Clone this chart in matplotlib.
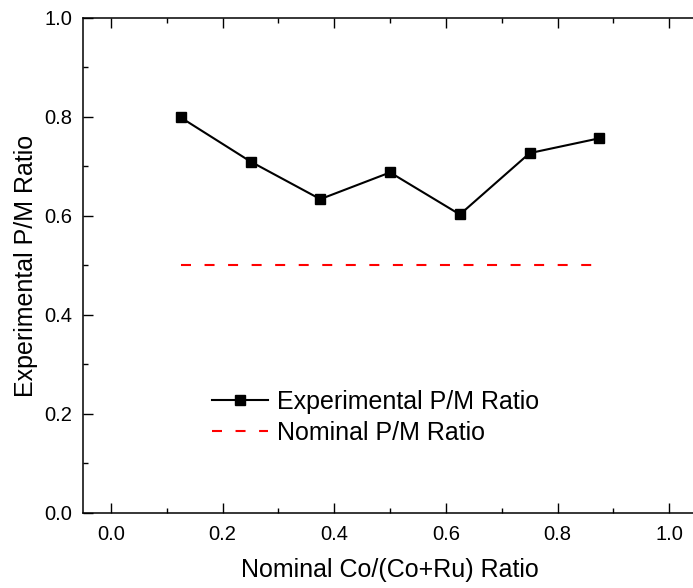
import matplotlib
matplotlib.use("Agg")
import matplotlib.pyplot as plt
from matplotlib.ticker import MultipleLocator

plt.rcParams["font.family"] = ["Liberation Sans", "DejaVu Sans"]

# Data
co_ratio = [0.125, 0.25, 0.375, 0.5, 0.625, 0.75, 0.875]
exp_pm = [0.799, 0.710, 0.634, 0.688, 0.603, 0.727, 0.757]
nominal_x = [0.125, 0.875]
nominal_pm = [0.5, 0.5]

fig = plt.figure(figsize=(6.93, 5.88), dpi=100)
ax = fig.add_axes([0.1198, 0.1276, 0.8862, 0.8418])

ax.plot(co_ratio, exp_pm, color="black", lw=1.5, marker="s", markersize=7,
        label="Experimental P/M Ratio")
ax.plot(nominal_x, nominal_pm, color="red", lw=1.5, dashes=(4.8, 6.5),
        label="Nominal P/M Ratio")

ax.set_xlim(-0.05, 1.05)
ax.set_ylim(0, 1.0)
ax.xaxis.set_major_locator(MultipleLocator(0.2))
ax.xaxis.set_minor_locator(MultipleLocator(0.1))
ax.yaxis.set_major_locator(MultipleLocator(0.2))
ax.yaxis.set_minor_locator(MultipleLocator(0.1))
ax.tick_params(which="both", direction="in", top=True, right=False,
               labelsize=14.5, width=1)
ax.tick_params(which="major", length=7)
ax.tick_params(which="minor", length=3.5)
ax.tick_params(axis="x", which="major", pad=9)
ax.tick_params(axis="y", which="major", pad=7.5)
ax.spines["right"].set_visible(False)
for s in ax.spines.values():
    s.set_linewidth(1.1)

ax.set_xlabel("Nominal Co/(Co+Ru) Ratio", fontsize=18, labelpad=10)
ax.set_ylabel("Experimental P/M Ratio", fontsize=18, labelpad=5)

ax.legend(loc="upper left", bbox_to_anchor=(0.21, 0.248), frameon=False,
          fontsize=18, handlelength=2.24, handletextpad=0.36,
          borderpad=0, borderaxespad=0, labelspacing=0.28)

fig.savefig("out.png", dpi=100)
